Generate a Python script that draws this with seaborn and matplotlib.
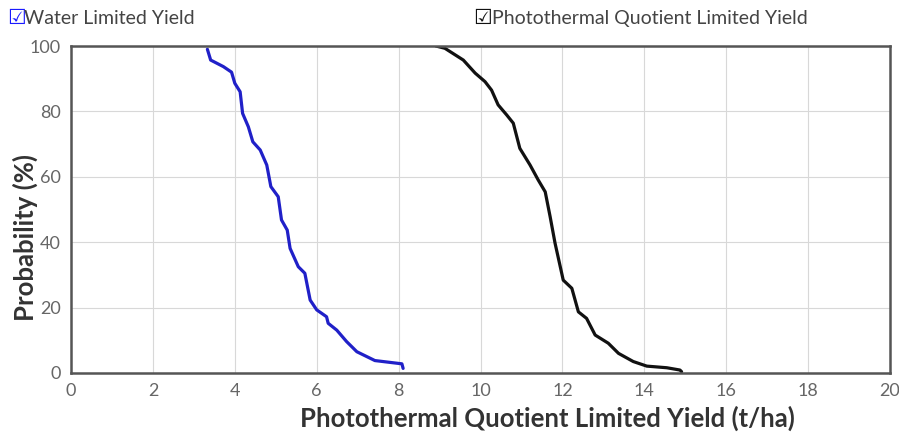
import matplotlib
matplotlib.use('Agg')
import matplotlib.pyplot as plt
import seaborn as sns
import pandas as pd

# yield (t/ha) vs exceedance probability (%)
water_yield = [3.33, 3.41, 3.72, 3.92, 4.00, 4.13, 4.19, 4.33, 4.44, 4.62, 4.78, 4.88,
               5.06, 5.14, 5.28, 5.35, 5.55, 5.71, 5.84, 6.00, 6.24, 6.28, 6.49, 6.73,
               6.98, 7.42, 8.08, 8.11]
water_prob = [99.0, 95.7, 93.7, 92.0, 88.6, 86.0, 79.4, 75.3, 70.7, 68.2, 63.6, 57.0,
              53.9, 46.8, 43.7, 38.1, 32.5, 30.5, 22.3, 19.3, 17.2, 15.2, 13.1, 9.6,
              6.5, 3.8, 2.8, 1.4]

ptq_yield = [8.91, 9.13, 9.58, 9.87, 10.11, 10.27, 10.43, 10.64, 10.80, 10.96, 11.21,
             11.41, 11.58, 11.70, 11.82, 12.02, 12.23, 12.39, 12.59, 12.80, 13.12, 13.37,
             13.73, 14.06, 14.55, 14.87, 14.91]
ptq_prob = [100.0, 99.3, 95.7, 91.7, 89.1, 86.5, 82.0, 78.9, 76.4, 68.7, 63.6, 59.0,
            55.4, 47.8, 39.7, 28.4, 25.9, 18.7, 16.7, 11.6, 9.1, 6.0, 3.5, 2.1, 1.6,
            0.9, 0.4]

series_names = ['Water Limited Yield', 'Photothermal Quotient Limited Yield']
series_colors = ['#2020c8', '#111111']
x_ticks = list(range(0, 21, 2))
y_ticks = list(range(0, 101, 20))

df = pd.concat([
    pd.DataFrame({'yield': water_yield, 'prob': water_prob, 'series': series_names[0]}),
    pd.DataFrame({'yield': ptq_yield, 'prob': ptq_prob, 'series': series_names[1]}),
])

sns.set_style('white')
plt.rcParams['font.family'] = ['Lato', 'DejaVu Sans']

fig = plt.figure(figsize=(8.99, 4.34), dpi=100)
ax = fig.add_axes([0.079, 0.1406, 0.911, 0.7534])

sns.lineplot(data=df, x='yield', y='prob', hue='series', palette=series_colors,
             sort=False, estimator=None, linewidth=2.3, legend=False, ax=ax)

ax.set_xlim(0, 20)
ax.set_ylim(0, 100)
ax.set_xticks(x_ticks)
ax.set_yticks(y_ticks)
ax.grid(True, color='#d8d8d8', linewidth=0.8)
for s in ax.spines.values():
    s.set_color('#555555')
    s.set_linewidth(1.8)
ax.tick_params(axis='both', colors='#bbbbbb', length=4, width=0.8,
               labelcolor='#666666', labelsize=13)

ax.set_xlabel('Photothermal Quotient Limited Yield (t/ha)', fontsize=18.5,
              fontweight='bold', color='#333333')
ax.set_ylabel('Probability (%)', fontsize=18.5, fontweight='bold', color='#333333')
ax.xaxis.set_label_coords(0.582, -0.1)
ax.yaxis.set_label_coords(-0.04, 0.413)

# legend-like labels with check icons across the top
fig.text(0.008, 0.958, '\u2611', color='#1a1aff', fontsize=15, fontweight='bold',
         family='DejaVu Sans', va='center')
fig.text(0.027, 0.958, series_names[0], color='#444444', fontsize=14, va='center')
fig.text(0.526, 0.958, '\u2611', color='#111111', fontsize=15, fontweight='bold',
         family='DejaVu Sans', va='center')
fig.text(0.547, 0.958, series_names[1], color='#444444', fontsize=14, va='center')

fig.savefig('out.png', dpi=100)
